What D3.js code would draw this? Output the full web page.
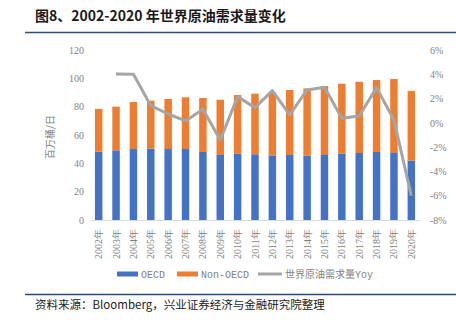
<!DOCTYPE html>
<html>
<head>
<meta charset="utf-8">
<script src="https://cdn.jsdelivr.net/npm/d3@7"></script>
<style>
  body { margin: 0; background: #fff; }
  svg { display: block; }
  .tick text { fill: #7f7f7f; font-family: "Liberation Serif", serif; font-size: 10px; }
</style>
</head>
<body>
<div id="chart"></div>
<script>
const years = ['2002年', '2003年', '2004年', '2005年', '2006年', '2007年', '2008年', '2009年', '2010年',
  '2011年', '2012年', '2013年', '2014年', '2015年', '2016年', '2017年', '2018年', '2019年', '2020年'];
const oecd = [48.2, 49.2, 50.1, 50.4, 50.1, 50.1, 48.0, 45.9, 46.8, 46.4, 45.6, 45.9, 45.4, 45.9, 46.8, 47.3, 48.0, 47.3, 41.9];
const nonOecd = [30.2, 30.8, 33.2, 33.8, 35.3, 36.5, 38.1, 39.0, 41.4, 42.8, 44.5, 45.9, 47.5, 48.7, 49.4, 50.3, 50.8, 52.2, 49.2];
const yoy = [null, 4.03, 4.0, 1.42, 0.73, 0.16, 1.12, -1.41, 2.16, 1.25, 2.65, 0.65, 2.71, 2.93, 0.38, 0.57, 2.9, 0.24, -6.0];
const leftTicks = [0, 20, 40, 60, 80, 100, 120];
const rightTicks = [6, 4, 2, 0, -2, -4, -6, -8];

const width = 456;
const height = 322;
const plotLeft = 90;
const plotRight = 420;
const plotTop = 50;
const plotBottom = 220;

const svg = d3.select('#chart').append('svg')
  .attr('width', width)
  .attr('height', height);

// title and rules
svg.append('text')
  .attr('x', 35).attr('y', 21)
  .style('font-family', '"Noto Sans CJK SC", sans-serif')
  .style('font-size', '14px')
  .style('font-weight', 'bold')
  .style('fill', '#1a1a1a')
  .text('图8、2002-2020 年世界原油需求量变化');
svg.append('line')
  .attr('x1', 25).attr('x2', width).attr('y1', 32.5).attr('y2', 32.5)
  .style('stroke', '#2f4a7a').style('stroke-width', 1.5);
svg.append('line')
  .attr('x1', 25).attr('x2', width).attr('y1', 294.5).attr('y2', 294.5)
  .style('stroke', '#2f4a7a').style('stroke-width', 1.5);
svg.append('text')
  .attr('x', 35).attr('y', 309)
  .style('font-family', '"Noto Sans CJK SC", sans-serif')
  .style('font-size', '11.5px')
  .style('fill', '#1a1a1a')
  .text('资料来源：Bloomberg，兴业证券经济与金融研究院整理');

const x = d3.scaleBand()
  .domain(years)
  .range([plotLeft, plotRight])
  .paddingInner(0.57)
  .paddingOuter(0.285);
const y = d3.scaleLinear().domain([0, 120]).range([plotBottom, plotTop]);
const y2 = d3.scaleLinear().domain([-8, 6]).range([plotBottom, plotTop]);

// bars
const rows = years.map((d, i) => ({ year: d, oecd: oecd[i], non: nonOecd[i] }));
const stack = d3.stack().keys(['oecd', 'non'])(rows);
const colors = { oecd: '#4472C4', non: '#ED7D31' };
svg.append('g').selectAll('g')
  .data(stack)
  .join('g')
  .attr('fill', (s) => colors[s.key])
  .selectAll('rect')
  .data((s) => s)
  .join('rect')
  .attr('x', (d) => x(d.data.year))
  .attr('width', x.bandwidth())
  .attr('y', (d) => y(d[1]))
  .attr('height', (d) => y(d[0]) - y(d[1]));

// yoy line
const line = d3.line()
  .defined((d) => d != null)
  .x((d, i) => x(years[i]) + x.bandwidth() / 2)
  .y((d) => y2(d));
svg.append('path')
  .datum(yoy)
  .attr('d', line)
  .style('fill', 'none')
  .style('stroke', '#A5A5A5')
  .style('stroke-width', 3)
  .style('stroke-linejoin', 'round');

// axes
const leftAxis = svg.append('g')
  .attr('transform', `translate(${plotLeft - 6}, 0)`)
  .call(d3.axisLeft(y).tickValues(leftTicks).tickSize(0).tickPadding(0));
leftAxis.select('.domain').remove();

const rightAxis = svg.append('g')
  .attr('transform', `translate(${plotRight + 10}, 0)`)
  .call(d3.axisRight(y2).tickValues(rightTicks).tickSize(0).tickPadding(0)
    .tickFormat((d) => `${d}%`));
rightAxis.select('.domain').remove();

const xAxis = svg.append('g')
  .attr('transform', `translate(0, ${plotBottom})`)
  .call(d3.axisBottom(x).tickSize(0).tickPadding(0));
xAxis.select('.domain').style('stroke', '#d9d9d9');
xAxis.selectAll('text')
  .attr('transform', 'rotate(-90)')
  .attr('x', -9)
  .attr('y', 0)
  .attr('dy', '0.35em')
  .style('text-anchor', 'end');

svg.append('text')
  .attr('transform', `translate(54, 137) rotate(-90)`)
  .style('text-anchor', 'middle')
  .style('font-family', '"Noto Sans CJK SC", sans-serif')
  .style('font-size', '10px')
  .style('fill', '#7f7f7f')
  .text('百万桶/日');

// legend
const legend = [
  { label: 'OECD', color: '#4472C4', x: 117, type: 'rect' },
  { label: 'Non-OECD', color: '#ED7D31', x: 177, type: 'rect' },
  { label: '世界原油需求量Yoy', color: '#A5A5A5', x: 258, type: 'line' }
];
const lg = svg.append('g').selectAll('g')
  .data(legend)
  .join('g')
  .attr('transform', (d) => `translate(${d.x}, 274)`);
lg.append('rect')
  .attr('x', 0).attr('y', (d) => d.type === 'rect' ? -2.5 : -1.5)
  .attr('width', (d) => d.type === 'rect' ? 21 : 24)
  .attr('height', (d) => d.type === 'rect' ? 5 : 3)
  .attr('fill', (d) => d.color);
lg.append('text')
  .attr('x', (d) => d.type === 'rect' ? 24 : 27)
  .attr('dy', '0.35em')
  .style('font-family', '"Liberation Mono", "Noto Sans CJK SC", monospace')
  .style('font-size', '10px')
  .style('fill', '#7f7f7f')
  .text((d) => d.label);
</script>
</body>
</html>
